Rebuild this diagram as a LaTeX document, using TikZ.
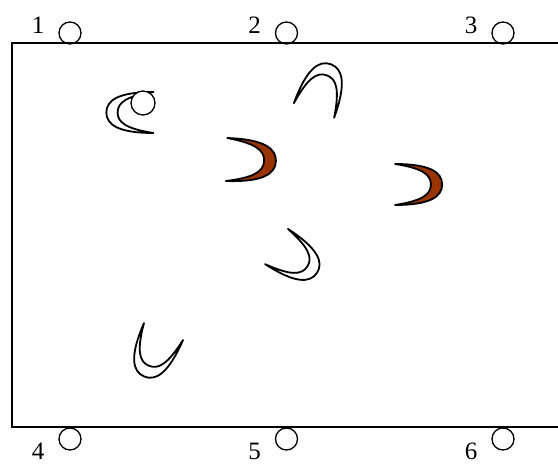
\documentclass[tikz,border=0pt]{standalone}
\usepackage{fontspec}
\setmainfont{Liberation Serif}
\usepackage{xcolor}
\definecolor{cafe}{RGB}{153,51,0}
\tikzset{
  puerto/.style={circle,draw,line width=1.3pt,minimum size=22pt,inner sep=0pt},
  etiqueta/.style={anchor=base,font=\fontsize{25}{25}\selectfont,inner sep=0pt},
  luna/.style={line width=1.8pt,line join=round}
}
\newcommand{\Luna}[4]{%
  \begin{scope}[shift={#1},rotate=#2,scale=#3]
    \draw[luna,#4] (0,1) .. controls (1.7,1) and (2.3,0.6) .. (2.3,0)
      .. controls (2.3,-0.6) and (1.7,-1) .. (0,-1)
      .. controls (1.3,-0.8) and (1.75,-0.5) .. (1.75,0)
      .. controls (1.75,0.5) and (1.3,0.8) .. (0,1) -- cycle;
  \end{scope}
}

\begin{document}
\begin{tikzpicture}[x=1pt,y=1pt]
    \useasboundingbox (0,0) rectangle (558,466);

    % recinto abierto a la derecha
    \draw[line width=2pt] (558,422.5) -- (11.5,422.5) -- (11.5,38.5) -- (558,38.5);

    % puertos superiores e inferiores
    \foreach \i/\x in {1/70,2/286.5,3/503} {
      \node[puerto] (p\i) at (\x,433) {};
      \node[etiqueta] (e\i) at (\x-32,432.7) {\i};
    }
    \foreach \i/\x in {4/70,5/286.5,6/503} {
      \node[puerto] (p\i) at (\x,27) {};
      \node[etiqueta] (e\i) at (\x-32,6) {\i};
    }

    % lunas
    \Luna{(153.5,353.5)}{180}{20.5}{fill=white}
    \node[puerto,fill=white,minimum size=24pt] (b1) at (143,363) {};
    \Luna{(226.5,306.5)}{-2}{21.5}{fill=cafe}
    \Luna{(314,355.5)}{70}{21.4}{}
    \Luna{(395,281.5)}{0}{20.5}{fill=cafe}
    \Luna{(276.5,219.5)}{-33}{21}{}
    \Luna{(163.5,134.5)}{-113.5}{21.3}{}
  \end{tikzpicture}
\end{document}
